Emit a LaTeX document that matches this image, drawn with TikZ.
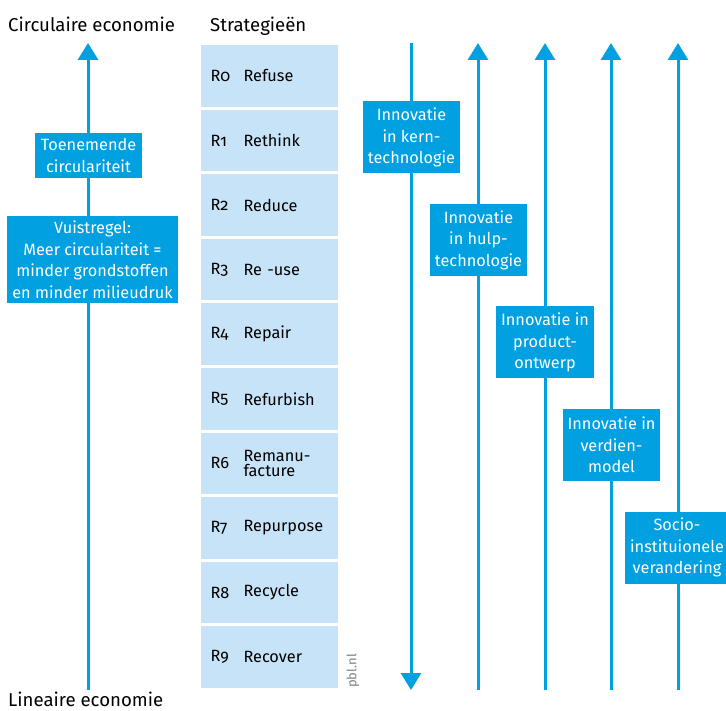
\documentclass[tikz,border=0pt]{standalone}
\usepackage{fontspec}
\setmainfont{Fira Sans}[Numbers=OldStyle]
\usepackage{tikz}
\usetikzlibrary{arrows.meta, positioning}
\usepackage{xcolor}
\definecolor{pblblue}{HTML}{00A0E1}
\definecolor{pbllight}{HTML}{C6E3F7}
\newcommand{\strat}[2]{\parbox[c]{33pt}{#1}\parbox[c]{84pt}{\raggedright\baselineskip=15pt #2}}

\begin{document}
\begin{tikzpicture}[
    x=1pt, y=-1pt,
    node distance=3pt,
    info/.style={
        fill=pblblue,
        text=white,
        align=center,
        inner xsep=5pt,
        inner ysep=5pt,
        font=\fontsize{16.3}{21.5}\selectfont
    },
    innov/.style={
        info,
        minimum width=96pt,
        minimum height=72pt
    },
    strategy/.style={
        fill=pbllight,
        minimum width=136pt,
        minimum height=61.6pt,
        text width=117pt,
        inner xsep=10pt,
        outer sep=0pt,
        align=left,
        font=\fontsize{16.3}{19}\selectfont
    },
    title/.style={
        anchor=base west,
        inner sep=0pt,
        font=\fontsize{18.6}{22}\selectfont
    },
    uparrow/.style={
        -{Triangle[width=20pt,length=17pt]},
        line width=3pt,
        draw=pblblue
    }
]
\useasboundingbox (0,0) rectangle (726,711);

% Coordinates
\coordinate (lin) at (88,690);
\coordinate (circ) at (88,43);
\coordinate (kerntop) at (411,43);
\coordinate (kernbot) at (411,690);
\coordinate (hulpbot) at (478,690);
\coordinate (hulptop) at (478,43);
\coordinate (prodbot) at (545,690);
\coordinate (prodtop) at (545,43);
\coordinate (verdbot) at (611,690);
\coordinate (verdtop) at (611,43);
\coordinate (sociobot) at (678,690);
\coordinate (sociotop) at (678,43);

% Paths
\draw [uparrow] (lin) -- (circ);
\draw [uparrow] (kerntop) -- (kernbot);
\draw [uparrow] (hulpbot) -- (hulptop);
\draw [uparrow] (prodbot) -- (prodtop);
\draw [uparrow] (verdbot) -- (verdtop);
\draw [uparrow] (sociobot) -- (sociotop);

% Titles
\node (circtitle) [title] at (8,32) {Circulaire economie};
\node (strattitle) [title] at (210,32) {Strategieën};
\node (lintitle) [title] at (8,706) {Lineaire economie};
\node (source) [rotate=90, text=gray, inner sep=0pt, font=\fontsize{13}{15}\selectfont] at (353,671) {pbl.nl};

% Left column
\node (toen) [info, inner xsep=6pt, inner ysep=6pt] at (88.5,155.5) {Toenemende\\circulariteit};
\node (vuist) [info] at (92.5,259.5) {Vuistregel:\\Meer circulariteit =\\minder grondstoffen\\en minder milieudruk};

% Strategies
\node (r0) [strategy] at (269,75.8) {\strat{R0}{Refuse}};
\node (r1) [strategy, below=of r0] {\strat{R1}{Rethink}};
\node (r2) [strategy, below=of r1] {\strat{R2}{Reduce}};
\node (r3) [strategy, below=of r2] {\strat{R3}{Re -use}};
\node (r4) [strategy, below=of r3] {\strat{R4}{Repair}};
\node (r5) [strategy, below=of r4] {\strat{R5}{Refurbish}};
\node (r6) [strategy, below=of r5] {\strat{R6}{Remanu-\\facture}};
\node (r7) [strategy, below=of r6] {\strat{R7}{Repurpose}};
\node (r8) [strategy, below=of r7] {\strat{R8}{Recycle}};
\node (r9) [strategy, below=of r8] {\strat{R9}{Recover}};

% Innovations
\node (kern) [innov] at (411.5,137.5) {Innovatie\\in kern-\\technologie};
\node (hulp) [innov] at (478.5,240) {Innovatie\\in hulp-\\technologie};
\node (prod) [innov] at (545,342.5) {Innovatie in\\product-\\ontwerp};
\node (verd) [innov] at (611.5,445) {Innovatie in\\verdien-\\model};
\node (socio) [innov] at (677,547.5) {Socio-\\instituionele\\verandering};

\end{tikzpicture}
\end{document}
